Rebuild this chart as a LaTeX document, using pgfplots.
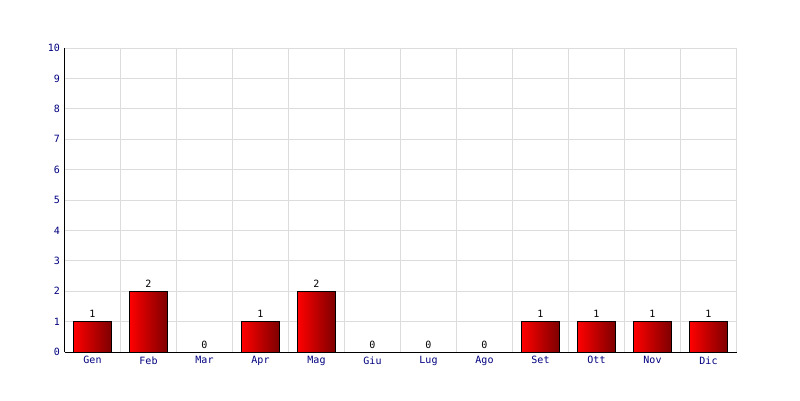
\documentclass[border=0pt]{standalone}
\usepackage{pgfplots}
\pgfplotsset{compat=1.18}
\usepackage{fontspec}
\setmainfont{DejaVu Sans Mono}
\definecolor{navyt}{RGB}{0,0,128}
\definecolor{gridc}{RGB}{220,220,220}
\definecolor{darkr}{RGB}{125,0,0}
\pgfplotsset{
  redbar/.style={ybar, bar width=38pt, bar shift=0pt, draw=black, line width=1pt,
    left color=red, right color=darkr,
    nodes near coords,
    every node near coord/.append style={font=\fontsize{10}{11}\selectfont, text=black, yshift=0pt}},
}
\begin{document}
\begin{tikzpicture}[x=1pt,y=1pt]
\useasboundingbox[fill=white] (0,0) rectangle (800,400);
\begin{axis}[
  at={(64.5pt,48pt)}, anchor=south west,
  scale only axis, width=672pt, height=304pt,
  xmin=-0.5, xmax=11.5, ymin=0, ymax=10,
  axis x line*=bottom, axis y line*=left,
  axis line style={black, line width=1pt, -},
  xtick={0,...,11},
  xticklabels={Gen,Feb,Mar,Apr,Mag,Giu,Lug,Ago,Set,Ott,Nov,Dic},
  minor xtick={0.5,1.5,...,11.5},
  ytick={0,...,10},
  major tick length=0pt, minor tick length=0pt,
  xmajorgrids=false, xminorgrids=true, ymajorgrids=true,
  grid style={gridc, line width=0.8pt},
  minor grid style={gridc, line width=0.8pt},
  tick label style={font=\fontsize{10}{11}\selectfont, text=navyt},
  /pgf/number format/assume math mode=true,
  xticklabel style={yshift=-1pt},
  yticklabel style={xshift=-1pt},
]
\addplot[redbar] coordinates {(0,1)};
\addplot[redbar] coordinates {(1,2)};
\addplot[redbar] coordinates {(2,0)};
\addplot[redbar] coordinates {(3,1)};
\addplot[redbar] coordinates {(4,2)};
\addplot[redbar] coordinates {(5,0)};
\addplot[redbar] coordinates {(6,0)};
\addplot[redbar] coordinates {(7,0)};
\addplot[redbar] coordinates {(8,1)};
\addplot[redbar] coordinates {(9,1)};
\addplot[redbar] coordinates {(10,1)};
\addplot[redbar] coordinates {(11,1)};
\end{axis}
\end{tikzpicture}
\end{document}
